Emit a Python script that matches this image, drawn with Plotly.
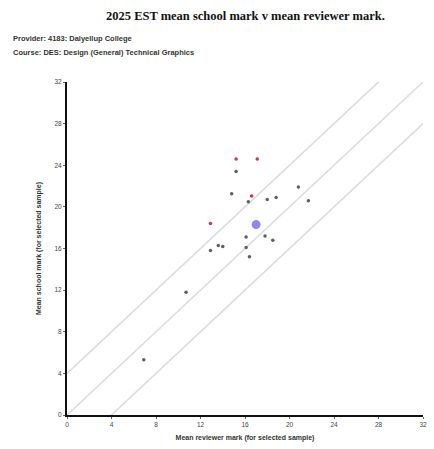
import plotly.graph_objects as go

# Data
gray_x = [15.2, 14.8, 16.3, 18.0, 18.8, 20.8, 21.7, 16.1, 17.8, 18.5, 13.6, 14.0, 12.9, 16.1, 16.4, 10.7, 6.9]
gray_y = [23.4, 21.25, 20.5, 20.7, 20.9, 21.9, 20.6, 17.1, 17.2, 16.8, 16.3, 16.2, 15.8, 16.1, 15.2, 11.8, 5.3]
red_x = [15.2, 17.1, 16.6, 12.9]
red_y = [24.6, 24.6, 21.05, 18.4]
mean_x = [17.0]
mean_y = [18.3]
band_offsets = [-4, 0, 4]
axis_min, axis_max = 0, 32
tick_vals = [0, 4, 8, 12, 16, 20, 24, 28, 32]

title = "2025 EST mean school mark v mean reviewer mark."
provider = "Provider: 4183: Dalyellup College"
course = "Course: DES: Design (General) Technical Graphics"
x_title = "Mean reviewer mark (for selected sample)"
y_title = "Mean school mark (for selected sample)"

L, R, T, B = 67, 7, 82, 34
W, H = 434, 449

fig = go.Figure()

for off in band_offsets:
    fig.add_trace(go.Scatter(
        x=[axis_min - 10, axis_max + 10],
        y=[axis_min - 10 + off, axis_max + 10 + off],
        mode="lines",
        line=dict(color="#dcdcdc", width=1.6),
        hoverinfo="skip", showlegend=False,
    ))

fig.add_trace(go.Scatter(x=gray_x, y=gray_y, mode="markers",
                         marker=dict(color="#606060", size=3.5), showlegend=False))
fig.add_trace(go.Scatter(x=red_x, y=red_y, mode="markers",
                         marker=dict(color="#d83048", size=3.5), showlegend=False))
fig.add_trace(go.Scatter(x=mean_x, y=mean_y, mode="markers",
                         marker=dict(color="rgba(100,100,225,0.75)", size=9), showlegend=False))

axis_common = dict(
    range=[axis_min, axis_max], tickvals=tick_vals, showgrid=False, zeroline=False,
    showline=True, linecolor="#111111", linewidth=2, ticks="outside", ticklen=2,
    tickcolor="#666666", ticklabeloverflow="allow",
    tickfont=dict(family="Liberation Sans", size=6.5, color="#444444"),
)

fig.update_layout(
    width=W, height=H,
    margin=dict(l=L, r=R, t=T, b=B),
    paper_bgcolor="white", plot_bgcolor="white",
    xaxis=dict(**axis_common, title=dict(text="<b>" + x_title + "</b>", standoff=8,
               font=dict(family="Liberation Sans", size=7, color="#333333"))),
    yaxis=dict(**axis_common, title=dict(text="<b>" + y_title + "</b>", standoff=12,
               font=dict(family="Liberation Sans", size=7, color="#333333"))),
)

pw = W - L - R
ph = H - T - B


def ann(text, px, py, font, xanchor="left"):
    return dict(text=text, xref="paper", yref="paper",
                x=(px - L) / pw, y=(H - B - py) / ph,
                xanchor=xanchor, yanchor="middle", showarrow=False, font=font)


fig.update_layout(annotations=[
    ann("<b>" + title + "</b>", 248, 16,
        dict(family="Liberation Serif", size=12.5, color="#111111"), xanchor="center"),
    ann("<b>" + provider + "</b>", 10, 38,
        dict(family="Liberation Sans", size=7.5, color="#333333")),
    ann("<b>" + course + "</b>", 10, 52,
        dict(family="Liberation Sans", size=7.5, color="#333333")),
])

fig.write_html("out.html", config={"displayModeBar": False},
               post_script="document.body.style.margin='0px';document.body.style.overflow='hidden';")
